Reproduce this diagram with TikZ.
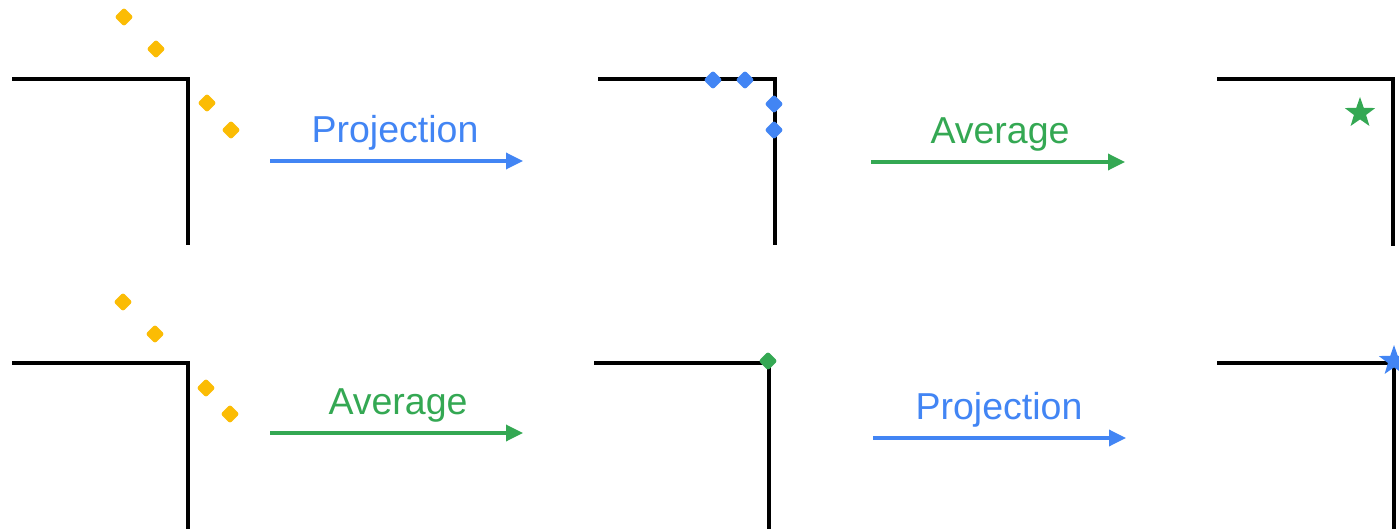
\documentclass[tikz,border=0pt]{standalone}
\usepackage{fontspec}
\setmainfont{Liberation Sans}
\usetikzlibrary{shapes.geometric,arrows.meta}
\definecolor{gblue}{HTML}{4285F4}
\definecolor{ggreen}{HTML}{34A853}
\definecolor{gyellow}{HTML}{FBBC04}
\tikzset{
  wall/.style={line width=3.4pt, black, line join=miter},
  pt/.style={shape=diamond, fill=#1, draw=none, inner sep=0pt, minimum size=19pt, rounded corners=2.5pt},
  starpt/.style={shape=star, star points=5, star point ratio=2.5, fill=#1, draw=none, inner sep=0pt, minimum size=32pt},
  flow/.style={line width=3.4pt, draw=#1, -{Triangle[length=17pt,width=16pt]}},
  lbl/.style={anchor=base, text=#1, inner sep=0pt, font=\fontsize{37.5}{42}\selectfont},
}
\begin{document}
\begin{tikzpicture}[x=1pt,y=-1pt]
\useasboundingbox (0,0) rectangle (1399,529);
% ---- top row ----
\draw[wall] (12,79) coordinate (a1) -- (188,79) coordinate (a2) -- (188,245) coordinate (a3);
\node[pt=gyellow] (y1) at (124,17) {};
\node[pt=gyellow] (y2) at (156,49) {};
\node[pt=gyellow] (y3) at (207,103) {};
\node[pt=gyellow] (y4) at (231,130) {};
\coordinate (p1s) at (270,161);
\coordinate (p1e) at (523,161);
\draw[flow=gblue] (p1s) -- (p1e);
\node[lbl=gblue] (t1) at (395,143) {Projection};

\draw[wall] (598,79) coordinate (b1) -- (775,79) coordinate (b2) -- (775,245) coordinate (b3);
\node[pt=gblue] (bl1) at (713,80) {};
\node[pt=gblue] (bl2) at (745,80) {};
\node[pt=gblue] (bl3) at (774,104) {};
\node[pt=gblue] (bl4) at (774,130) {};
\coordinate (p2s) at (871,162);
\coordinate (p2e) at (1125,162);
\draw[flow=ggreen] (p2s) -- (p2e);
\node[lbl=ggreen] (t2) at (1000,144) {Average};

\draw[wall] (1217,79) coordinate (c1) -- (1393,79) coordinate (c2) -- (1393,246) coordinate (c3);
\node[starpt=ggreen] (s1) at (1360,113) {};

% ---- bottom row ----
\draw[wall] (12,363) coordinate (d1) -- (188,363) coordinate (d2) -- (188,529) coordinate (d3);
\node[pt=gyellow] (z1) at (123,302) {};
\node[pt=gyellow] (z2) at (155,334) {};
\node[pt=gyellow] (z3) at (206,388) {};
\node[pt=gyellow] (z4) at (230,414) {};
\coordinate (p3s) at (270,433);
\coordinate (p3e) at (523,433);
\draw[flow=ggreen] (p3s) -- (p3e);
\node[lbl=ggreen] (t3) at (398,414) {Average};

\draw[wall] (594,363) coordinate (e1) -- (769,363) coordinate (e2) -- (769,529) coordinate (e3);
\node[pt=ggreen] (g1) at (768,361) {};
\coordinate (p4s) at (873,438);
\coordinate (p4e) at (1126,438);
\draw[flow=gblue] (p4s) -- (p4e);
\node[lbl=gblue] (t4) at (999,419) {Projection};

\draw[wall] (1217,363) coordinate (f1) -- (1394,363) coordinate (f2) -- (1394,529) coordinate (f3);
\node[starpt=gblue] (s2) at (1394,361) {};
\end{tikzpicture}
\end{document}
